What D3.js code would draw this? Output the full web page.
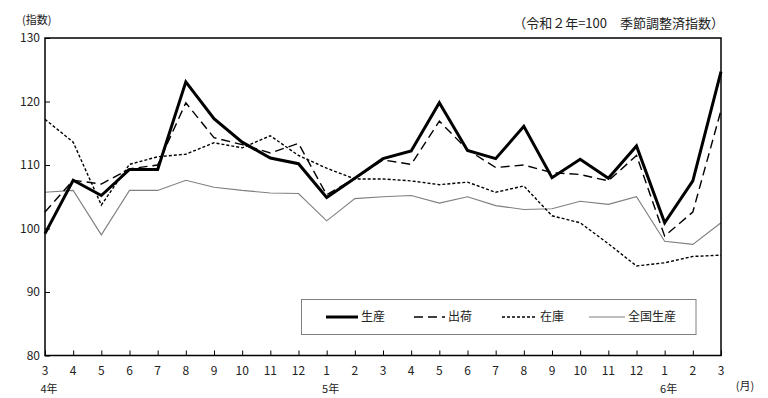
<!DOCTYPE html>
<html>
<head>
<meta charset="utf-8">
<script src="https://cdn.jsdelivr.net/npm/d3@7"></script>
<style>
  body { margin: 0; background: #fff; }
  text { font-family: "Noto Sans CJK JP", "Liberation Sans", sans-serif; fill: #222; }
</style>
</head>
<body>
<div id="my_dataviz"></div>
<script>
var width = 768
var height = 398

// months from 令和4年3月 to 令和6年3月
var months = ["3","4","5","6","7","8","9","10","11","12","1","2","3","4","5","6","7","8","9","10","11","12","1","2","3"]
var years = [{i: 0, label: "4年"}, {i: 10, label: "5年"}, {i: 22, label: "6年"}]

var seisan   = [99.2,107.6,105.2,109.3,109.3,123.1,117.3,113.6,111.1,110.2,104.9,107.9,111.0,112.2,119.8,112.3,111.0,116.1,108.0,110.9,107.9,113.0,100.9,107.5,124.7]
var shukka   = [102.6,107.6,107.0,109.4,110.0,119.8,114.3,113.2,111.9,113.4,105.3,107.9,110.8,110.1,116.9,112.4,109.6,110.0,108.8,108.5,107.5,111.5,98.8,102.6,118.6]
var zaiko    = [117.2,113.6,103.7,110.1,111.3,111.7,113.5,112.7,114.6,111.5,109.5,107.8,107.8,107.5,106.9,107.3,105.7,106.7,102.0,100.9,97.6,94.1,94.6,95.6,95.8]
var zenkoku  = [105.7,106.0,99.0,106.0,106.0,107.6,106.5,106.0,105.6,105.5,101.2,104.7,105.0,105.2,104.0,105.0,103.6,103.0,103.1,104.3,103.8,105.0,98.0,97.5,100.9]

var yTicks = [80, 90, 100, 110, 120, 130]

var series = [
  {name: "生産", values: seisan, color: "#000", w: 3, dash: null},
  {name: "出荷", values: shukka, color: "#000", w: 1.4, dash: "9,5"},
  {name: "在庫", values: zaiko, color: "#000", w: 1.4, dash: "3,2"},
  {name: "全国生産", values: zenkoku, color: "#7f7f7f", w: 1.1, dash: null}
]

var plotL = 45, plotR = 721, plotT = 38, plotB = 355.5

var svg = d3.select("#my_dataviz")
  .append("svg")
    .attr("width", width)
    .attr("height", height)

var x = d3.scaleLinear()
    .domain([0, months.length - 1])
    .range([plotL, plotR])

var y = d3.scaleLinear()
    .domain([80, 130])
    .range([plotB, plotT])

// axes with inward ticks
var yAxis = svg.append("g")
    .attr("transform", "translate(" + plotL + ",0)")
    .call(d3.axisRight(y).tickValues(yTicks).tickSize(5).tickFormat(""))
yAxis.select(".domain").remove()
yAxis.selectAll("line").attr("stroke", "#000")

svg.append("g")
    .selectAll("text")
    .data(yTicks)
    .enter()
    .append("text")
      .attr("x", plotL - 5)
      .attr("y", function(d){ return y(d) + 4 })
      .attr("text-anchor", "end")
      .style("font-size", "12px")
      .text(function(d){ return d })

var xAxis = svg.append("g")
    .attr("transform", "translate(0," + plotB + ")")
    .call(d3.axisTop(x).tickValues(d3.range(months.length)).tickSize(5).tickFormat(""))
xAxis.select(".domain").remove()
xAxis.selectAll("line").attr("stroke", "#000")

svg.append("g")
    .selectAll("text")
    .data(months)
    .enter()
    .append("text")
      .attr("x", function(d, i){ return x(i) })
      .attr("y", 375)
      .attr("text-anchor", "middle")
      .style("font-size", "12px")
      .text(function(d){ return d })

svg.append("g")
    .selectAll("text")
    .data(years)
    .enter()
    .append("text")
      .attr("x", function(d){ return x(d.i) + 4 })
      .attr("y", 393)
      .attr("text-anchor", "middle")
      .style("font-size", "11px")
      .text(function(d){ return d.label })

svg.append("text")
    .attr("x", 745)
    .attr("y", 390)
    .attr("text-anchor", "middle")
    .style("font-size", "11px")
    .text("(月)")

svg.append("text")
    .attr("x", 22)
    .attr("y", 24)
    .style("font-size", "11px")
    .text("(指数)")

svg.append("text")
    .attr("x", 724)
    .attr("y", 28)
    .attr("text-anchor", "end")
    .style("font-size", "13px")
    .text("（令和２年=100　季節調整済指数）")

// lines
var line = d3.line()
    .x(function(d, i){ return x(i) })
    .y(function(d){ return y(d) })

svg.append("g")
    .selectAll("path")
    .data(series.slice().reverse())
    .enter()
    .append("path")
      .attr("d", function(d){ return line(d.values) })
      .attr("fill", "none")
      .attr("stroke", function(d){ return d.color })
      .attr("stroke-width", function(d){ return d.w })
      .attr("stroke-dasharray", function(d){ return d.dash })
      .attr("stroke-linejoin", "miter")

// frame
svg.append("rect")
    .attr("x", plotL)
    .attr("y", plotT)
    .attr("width", plotR - plotL)
    .attr("height", plotB - plotT)
    .attr("fill", "none")
    .attr("stroke", "#000")
    .attr("stroke-width", 1.5)

// legend
var legend = svg.append("g")
legend.append("rect")
    .attr("x", 301.5)
    .attr("y", 299.5)
    .attr("width", 394.5)
    .attr("height", 35)
    .attr("fill", "#fff")
    .attr("stroke", "#808080")
    .attr("stroke-width", 1)

var legX = [326, 414, 502, 589]
var legLen = [32, 31, 35, 36]
var item = legend.selectAll("g.item")
    .data(series)
    .enter()
    .append("g")
      .attr("class", "item")
item.append("line")
    .attr("x1", function(d, i){ return legX[i] })
    .attr("x2", function(d, i){ return legX[i] + legLen[i] })
    .attr("y1", 317)
    .attr("y2", 317)
    .attr("stroke", function(d){ return d.color })
    .attr("stroke-width", function(d){ return d.w })
    .attr("stroke-dasharray", function(d){ return d.dash })
item.append("text")
    .attr("x", function(d, i){ return legX[i] + legLen[i] + 3 })
    .attr("y", 321)
    .style("font-size", "12px")
    .text(function(d){ return d.name })
</script>
</body>
</html>
